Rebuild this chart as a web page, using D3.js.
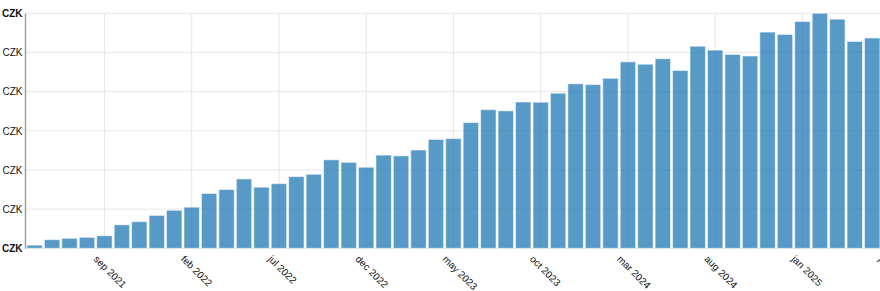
<!DOCTYPE html>
<html>
<head>
<meta charset="utf-8">
<script src="https://cdn.jsdelivr.net/npm/d3@7"></script>
<style>
  html, body { margin: 0; padding: 0; overflow: hidden; background: #fff; }
  svg { display: block; font-family: "Liberation Sans", Arial, sans-serif; }
</style>
</head>
<body>
<svg id="chart"></svg>
<script>
// Monthly categories (domain runs one month past the last bar, as in the original)
const months = d3.timeMonth.range(new Date(2021, 4, 1), new Date(2025, 6, 1));

// Monthly amounts in CZK, may 2021 .. may 2025
const amounts = [
  800, 2200, 2550, 2800, 3200, 6000, 6800, 8400, 9700, 10500,
  14000, 15000, 17700, 15600, 16500, 18300, 18900, 22600, 21950, 20700,
  23800, 23600, 25100, 27800, 28000, 32100, 35400, 35100, 37350, 37300,
  39600, 42000, 41800, 43400, 47600, 47000, 48400, 45400, 51600, 50600,
  49500, 49100, 55200, 54600, 57900, 60000, 58500, 52800, 53700
];

// Y ticks
const yTicks = [0, 10000, 20000, 30000, 40000, 50000, 60000];

// every fifth month gets a tick label
const xTicks = months.filter((d, i) => i % 5 === 4);

const data = amounts.map((v, i) => ({ month: months[i], value: v }));

const width = 900, height = 291;
const margin = { top: 13.3, left: 25, bottom: 42.7 };
const plotBottom = height - margin.bottom;

const svg = d3.select("#chart")
  .attr("width", width)
  .attr("height", height);

// Scales
const xScale = d3.scaleBand()
  .domain(months.map(d => +d))
  .range([25.9, 25.9 + months.length * 17.45])
  .paddingInner(0.117)
  .paddingOuter(0.0585);

const yScale = d3.scaleLinear()
  .domain([0, 60000])
  .range([plotBottom, margin.top]);

const fmtMonth = d3.timeFormat("%b %Y");

// Horizontal grid
svg.append("g")
  .selectAll("line")
  .data(yTicks)
  .enter()
  .append("line")
  .attr("x1", margin.left)
  .attr("x2", width)
  .attr("y1", d => yScale(d))
  .attr("y2", d => yScale(d))
  .attr("stroke", "#e6e6e6")
  .attr("stroke-width", 1);

// X axis: grid lines + rotated labels
const xAxis = svg.append("g")
  .attr("transform", `translate(0, ${ plotBottom })`)
  .call(d3.axisBottom(xScale)
    .tickValues(xTicks.map(d => +d))
    .tickFormat(d => fmtMonth(new Date(d)).toLowerCase())
    .tickSize(0));

xAxis.select(".domain").remove();
xAxis.selectAll(".tick line")
  .attr("y1", 0)
  .attr("y2", margin.top - plotBottom)
  .attr("stroke", "#e6e6e6");
xAxis.selectAll(".tick text")
  .attr("x", 0)
  .attr("y", 9)
  .attr("dy", "0.71em")
  .attr("transform", "rotate(45)")
  .style("text-anchor", "start")
  .attr("font-size", "10px")
  .attr("font-family", "Liberation Sans, Arial, sans-serif")
  .attr("fill", "#111");

// Bars
svg.append("g")
  .selectAll("rect")
  .data(data)
  .enter()
  .append("rect")
  .attr("x", d => xScale(+d.month))
  .attr("width", xScale.bandwidth())
  .attr("y", d => yScale(d.value))
  .attr("height", d => yScale(0) - yScale(d.value))
  .attr("fill", "#1f77b4")
  .attr("fill-opacity", 0.75)
  .attr("stroke", "#ffffff")
  .attr("stroke-opacity", 0.55)
  .attr("stroke-width", 1);

// Y axis
const yAxis = svg.append("g")
  .attr("transform", `translate(${ margin.left }, 0)`)
  .call(d3.axisLeft(yScale)
    .tickValues(yTicks)
    .tickFormat(() => "CZK")
    .tickSize(0)
    .tickPadding(2.5));

yAxis.select(".domain")
  .attr("stroke", "#999")
  .attr("stroke-width", 1.4);
yAxis.selectAll(".tick text")
  .attr("font-size", "10px")
  .attr("font-family", "Liberation Sans, Arial, sans-serif")
  .attr("fill", "#111")
  .style("font-weight", (d, i) => (i === 0 || i === yTicks.length - 1) ? "bold" : "normal");
</script>
</body>
</html>
